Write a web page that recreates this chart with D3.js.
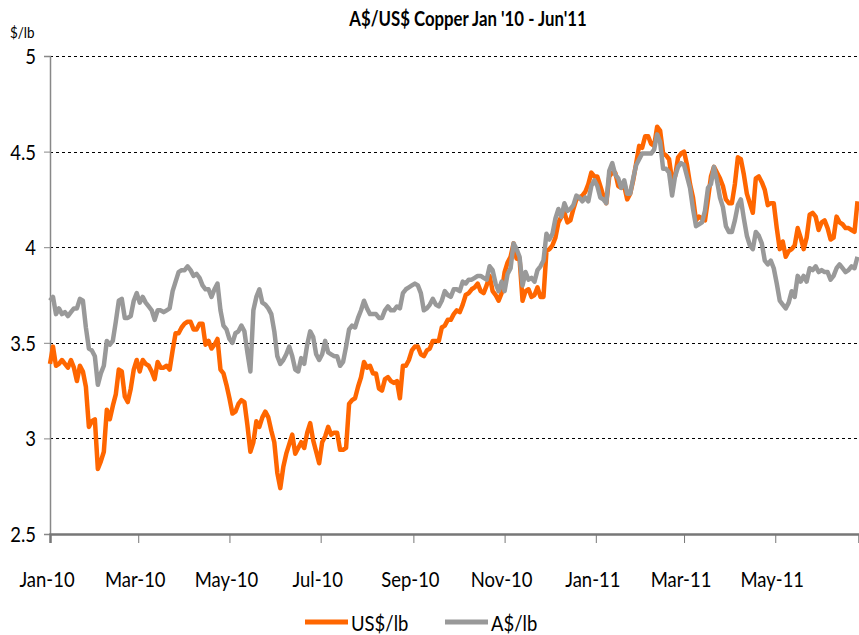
<!DOCTYPE html>
<html>
<head>
<meta charset="utf-8">
<script src="https://cdnjs.cloudflare.com/ajax/libs/d3/7.8.5/d3.min.js"></script>
<style>
body { margin: 0; background: #fff; }
text { font-family: Lato, "Noto Sans", sans-serif; fill: #000; }
</style>
</head>
<body>
<div id="chart"></div>
<script>
// one reading every 2 calendar days, starting 1 Jan 2010
var startDate = "2010-01-01";
var stepDays = 2;

var usd = [3.39,3.48,3.38,3.39,3.41,3.39,3.37,3.41,3.37,3.30,
  3.38,3.35,3.27,3.06,3.09,3.10,2.84,2.88,2.93,3.15,
  3.10,3.17,3.23,3.36,3.35,3.22,3.19,3.26,3.36,3.41,
  3.35,3.41,3.39,3.38,3.35,3.31,3.40,3.37,3.37,3.38,
  3.36,3.46,3.55,3.55,3.58,3.60,3.61,3.61,3.57,3.57,
  3.60,3.60,3.49,3.51,3.47,3.49,3.52,3.36,3.34,3.28,
  3.21,3.13,3.14,3.18,3.20,3.19,3.07,2.93,2.98,3.09,
  3.06,3.11,3.14,3.11,3.04,2.98,2.82,2.74,2.85,2.92,
  2.97,3.02,2.92,2.95,2.98,2.95,3.03,3.08,2.99,2.93,
  2.87,2.98,3.01,3.06,3.02,3.03,3.03,2.94,2.94,2.95,
  3.18,3.20,3.21,3.27,3.32,3.40,3.37,3.38,3.34,3.34,
  3.26,3.25,3.31,3.32,3.30,3.29,3.30,3.21,3.38,3.38,
  3.41,3.46,3.48,3.48,3.44,3.43,3.46,3.47,3.51,3.51,
  3.51,3.58,3.59,3.62,3.62,3.65,3.67,3.66,3.70,3.75,
  3.76,3.78,3.79,3.81,3.77,3.76,3.80,3.85,3.77,3.75,
  3.72,3.76,3.87,3.92,3.95,4.02,3.94,3.94,3.72,3.77,
  3.78,3.74,3.75,3.79,3.74,3.74,3.98,3.99,4.01,4.05,
  4.13,4.16,4.18,4.13,4.14,4.20,4.25,4.26,4.27,4.29,
  4.33,4.39,4.37,4.37,4.32,4.27,4.23,4.37,4.39,4.39,
  4.32,4.31,4.32,4.25,4.28,4.35,4.44,4.53,4.52,4.58,
  4.58,4.54,4.53,4.63,4.61,4.49,4.48,4.46,4.35,4.37,
  4.47,4.49,4.50,4.43,4.33,4.26,4.14,4.16,4.15,4.14,
  4.25,4.37,4.42,4.39,4.36,4.32,4.25,4.23,4.23,4.33,
  4.47,4.46,4.38,4.28,4.23,4.18,4.36,4.37,4.34,4.30,
  4.22,4.23,4.23,4.10,3.99,4.03,3.95,3.98,3.99,4.01,
  4.10,4.05,3.99,4.05,4.17,4.18,4.16,4.09,4.13,4.14,
  4.10,4.04,4.05,4.16,4.13,4.12,4.10,4.10,4.09,4.08,
  4.24];

var aud = [3.72,3.74,3.65,3.68,3.65,3.66,3.64,3.66,3.68,3.68,
  3.73,3.72,3.58,3.47,3.46,3.43,3.28,3.34,3.38,3.51,
  3.49,3.51,3.61,3.72,3.73,3.63,3.63,3.64,3.72,3.76,
  3.71,3.74,3.71,3.69,3.67,3.62,3.67,3.67,3.66,3.67,
  3.68,3.77,3.82,3.87,3.88,3.88,3.90,3.88,3.85,3.86,
  3.84,3.80,3.78,3.78,3.74,3.78,3.81,3.67,3.59,3.57,
  3.52,3.50,3.55,3.56,3.59,3.56,3.45,3.35,3.67,3.74,
  3.78,3.71,3.70,3.68,3.65,3.56,3.43,3.39,3.41,3.44,
  3.48,3.43,3.36,3.35,3.42,3.39,3.49,3.56,3.53,3.44,
  3.41,3.44,3.51,3.45,3.44,3.43,3.43,3.38,3.40,3.48,
  3.57,3.59,3.58,3.63,3.67,3.72,3.68,3.65,3.65,3.65,
  3.63,3.63,3.67,3.69,3.67,3.67,3.69,3.68,3.76,3.78,
  3.79,3.80,3.81,3.80,3.76,3.67,3.68,3.70,3.73,3.70,
  3.69,3.72,3.77,3.75,3.74,3.78,3.78,3.77,3.82,3.81,
  3.83,3.83,3.84,3.85,3.85,3.84,3.83,3.90,3.88,3.81,
  3.77,3.82,3.77,3.86,3.89,4.02,3.99,3.95,3.80,3.87,
  3.83,3.84,3.82,3.88,3.90,3.93,4.07,4.04,4.07,4.15,
  4.20,4.16,4.23,4.19,4.20,4.22,4.27,4.26,4.24,4.26,
  4.24,4.32,4.35,4.32,4.26,4.25,4.23,4.40,4.44,4.38,
  4.36,4.31,4.35,4.28,4.28,4.36,4.43,4.46,4.49,4.49,
  4.49,4.49,4.51,4.59,4.55,4.41,4.41,4.39,4.27,4.37,
  4.42,4.44,4.43,4.37,4.31,4.20,4.11,4.12,4.13,4.19,
  4.31,4.33,4.42,4.35,4.26,4.21,4.11,4.08,4.08,4.14,
  4.22,4.25,4.15,4.06,4.01,3.99,4.08,4.06,4.02,3.93,
  3.91,3.93,3.89,3.81,3.72,3.70,3.68,3.71,3.77,3.74,
  3.85,3.82,3.85,3.82,3.89,3.88,3.90,3.87,3.88,3.87,
  3.87,3.83,3.85,3.89,3.91,3.89,3.87,3.88,3.90,3.89,
  3.95];

var yTicks = [2.5, 3, 3.5, 4, 4.5, 5];
var xTickDates = ["2010-01-01","2010-03-01","2010-05-01","2010-07-01","2010-09-01",
  "2010-11-01","2011-01-01","2011-03-01","2011-05-01"];
var seriesNames = ["US$/lb", "A$/lb"];
var seriesColors = ["#ff6600", "#999999"];

var width = 859, height = 635;
var margin = {left: 50, right: 0, top: 56, bottom: 101};
var squeeze = 0.84;   // text in the picture is horizontally compressed

var parse = d3.timeParse("%Y-%m-%d");
var start = parse(startDate);
var dates = usd.map(function(d, i) { return d3.timeDay.offset(start, i * stepDays); });

var svg = d3.select("#chart").append("svg")
    .attr("width", width)
    .attr("height", height);

var x = d3.scaleTime()
    .domain([start, parse("2011-06-26")])
    .range([margin.left, width - margin.right]);

var y = d3.scaleLinear()
    .domain([2.5, 5])
    .range([height - margin.bottom, margin.top]);

function label(x0, y0, str, size, anchor, weight) {
    return svg.append("text")
        .attr("transform", "translate(" + x0 + "," + y0 + ") scale(" + squeeze + ",1)")
        .attr("text-anchor", anchor)
        .style("font-size", size + "px")
        .style("font-weight", weight || "normal")
        .text(str);
}

// gridlines
svg.append("g")
    .selectAll("line")
    .data(yTicks.filter(function(d) { return d > 2.5; }))
    .enter()
    .append("line")
    .attr("x1", margin.left)
    .attr("x2", width)
    .attr("y1", function(d) { return Math.round(y(d)) + 0.5; })
    .attr("y2", function(d) { return Math.round(y(d)) + 0.5; })
    .attr("stroke", "#000")
    .attr("stroke-width", 1)
    .attr("shape-rendering", "crispEdges")
    .attr("stroke-dasharray", "3,3");

// y axis
var yAxis = svg.append("g")
    .attr("transform", "translate(" + margin.left + ",0)")
    .call(d3.axisLeft(y).tickValues(yTicks).tickSize(6).tickFormat(""));
yAxis.select(".domain").attr("stroke", "#888").attr("stroke-width", 1.5);
yAxis.selectAll(".tick line").attr("stroke", "#888");

yTicks.forEach(function(t) {
    label(36, y(t) + 8, d3.format("")(t), 22, "end");
});
label(10, 38, "$/lb", 16, "start");

// x axis
var xAxis = svg.append("g")
    .attr("transform", "translate(0," + y(2.5) + ")")
    .call(d3.axisBottom(x).tickValues(xTickDates.map(parse)).tickSize(9).tickFormat(""));
xAxis.select(".domain").attr("stroke", "#777").attr("stroke-width", 2.5);
xAxis.selectAll(".tick line").attr("stroke", "#777");

var fmt = d3.timeFormat("%b-%y");
xTickDates.forEach(function(s) {
    label(x(parse(s)) - 3, 587, fmt(parse(s)), 22, "middle");
});

// lines
var line = d3.line()
    .x(function(d) { return x(d[0]); })
    .y(function(d) { return y(d[1]); });

[usd, aud].forEach(function(vals, k) {
    svg.append("path")
        .datum(vals.map(function(v, i) { return [dates[i], v]; }))
        .attr("d", line)
        .attr("fill", "none")
        .attr("stroke", seriesColors[k])
        .attr("stroke-width", 4.5)
        .attr("stroke-linejoin", "round");
});

// title
label(468, 26, "A$/US$ Copper Jan '10 - Jun'11", 20, "middle", "bold");

// legend
var legendX = [305, 445];
seriesNames.forEach(function(name, k) {
    svg.append("line")
        .attr("x1", legendX[k]).attr("x2", legendX[k] + 43)
        .attr("y1", 622).attr("y2", 622)
        .attr("stroke", seriesColors[k])
        .attr("stroke-width", 5);
    label(legendX[k] + 46, 631, name, 22, "start");
});
</script>
</body>
</html>
